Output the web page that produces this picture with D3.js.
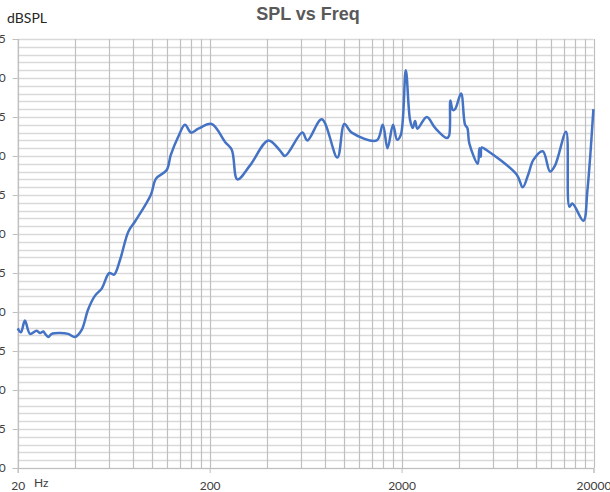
<!DOCTYPE html>
<html>
<head>
<meta charset="utf-8">
<script src="https://cdn.jsdelivr.net/npm/d3@7"></script>
<style>
    body { margin: 0; background: #fff; }
    svg { display: block; }
</style>
</head>
<body>
<div id="chart"></div>
<script>
var width = 610, height = 492,
    margin = {top: 39, right: 16.5, bottom: 24, left: 17.7};

// measured response (Hz, dB SPL)
var freqs = [20, 20.8, 21.8, 23.2, 25.1, 26.1, 27.2, 27.8, 28.9, 30.1, 33.2, 36.6, 39.8, 43.1, 46.5, 50.6, 54.8, 60, 63.5, 68.3,
    75.4, 81.7, 98.7, 105.1, 119.5, 125.4, 137.4, 148.8, 160, 174.6, 205, 240.6, 260.8, 279, 324.8, 404.6, 465.4, 494, 608, 645.8,
    767.8, 926, 1007, 1100, 1486, 1596, 1690, 1806, 1894, 1981, 2104, 2215, 2288, 2352, 2418, 2706, 2991, 3440, 3537, 3592,
    3698, 3800, 4084, 4284, 4404, 4510, 4990, 5087, 5172, 5235, 5512, 7968, 8561, 9160, 9725, 10884, 11880, 12617, 14394, 14976,
    15524, 17720, 18593, 19977];
var spl = [57.9, 57.4, 58.9, 57.2, 57.6, 57.3, 57.5, 57.2, 56.8, 57.2, 57.3, 57.2, 56.8, 57.7, 60.3, 62.1, 63.0, 65.0, 64.8, 66.7,
    70.3, 71.6, 75.0, 77.1, 78.2, 80.1, 82.5, 84.0, 83.0, 83.5, 84.1, 81.8, 80.8, 77.0, 78.8, 82.0, 80.7, 80.0, 83.0, 82.0,
    84.7, 79.8, 84.1, 83.0, 82.0, 84.0, 81.0, 84.0, 82.1, 82.7, 91.0, 84.6, 83.6, 84.5, 83.5, 85.0, 83.6, 82.3, 82.6, 87.1,
    85.9, 86.0, 88.0, 84.0, 83.6, 81.6, 79.0, 81.0, 79.9, 81.1, 80.8, 77.6, 76.0, 77.7, 79.5, 80.6, 78.0, 78.8, 83.1, 73.5,
    73.9, 71.7, 75.6, 86.0];

var xMajor = [20, 200, 2000, 20000];
var yTicks = [40, 45, 50, 55, 60, 65, 70, 75, 80, 85, 90, 95];

var data = freqs.map((f, i) => ({f: f, v: spl[i]}));

// excel style minor lines: 2x..9x of each major
var xMinor = [];
[20, 200, 2000].forEach(b => { for (var k = 2; k <= 9; k++) xMinor.push(b * k); });

var svg = d3.select("#chart").append("svg").attr("width", width).attr("height", height);

var x = d3.scaleLog().domain([20, 20000]).range([margin.left, width - margin.right]),
    y = d3.scaleLinear().domain([40, 95]).range([height - margin.bottom, margin.top]);

// horizontal grid, every 1 dB
svg.append("g")
    .selectAll("line")
    .data(d3.range(40, 96, 1))
    .enter()
    .append("line")
    .attr("x1", x(20)).attr("x2", x(20000))
    .attr("y1", d => Math.round(y(d)) + 0.5).attr("y2", d => Math.round(y(d)) + 0.5)
    .style("stroke", "#d9d9d9").style("stroke-width", 1.3);

// vertical grid
svg.append("g")
    .selectAll("line")
    .data(xMinor.concat(xMajor))
    .enter()
    .append("line")
    .attr("x1", d => Math.round(x(d)) + 0.5).attr("x2", d => Math.round(x(d)) + 0.5)
    .attr("y1", y(95)).attr("y2", y(40))
    .style("stroke", "#bfbfbf").style("stroke-width", 1.2);

// axes
var xAxis = d3.axisBottom(x).tickValues(xMajor).tickSize(5).tickFormat(d3.format("d"));
var yAxis = d3.axisLeft(y).tickValues(yTicks).tickSize(5).tickFormat(d3.format("d"));

var gx = svg.append("g").attr("transform", "translate(0," + y(40) + ")").call(xAxis);
gx.select(".domain").style("stroke", "#bfbfbf");
gx.selectAll(".tick line").style("stroke", "#bfbfbf");
gx.selectAll(".tick text")
    .attr("y", 13)
    .style("font", "12px Lato, 'Liberation Sans', sans-serif").style("fill", "#404040");

var gy = svg.append("g").attr("transform", "translate(" + x(20) + ",0)").call(yAxis);
gy.select(".domain").style("stroke", "#bfbfbf");
gy.selectAll(".tick line").style("stroke", "#bfbfbf");
gy.selectAll(".tick text")
    .attr("x", -12)
    .style("font", "12px Lato, 'Liberation Sans', sans-serif").style("fill", "#404040");

// response curve
var line = d3.line()
    .x(d => x(d.f))
    .y(d => y(d.v))
    .curve(d3.curveCatmullRom.alpha(0.5));

svg.append("path")
    .datum(data)
    .attr("d", line)
    .style("fill", "none")
    .style("stroke", "#4472c4")
    .style("stroke-width", 2.5)
    .style("stroke-linejoin", "round");

// titles
svg.append("text")
    .attr("x", 308).attr("y", 20)
    .style("text-anchor", "middle")
    .style("font", "bold 18px 'Liberation Sans', Arial, sans-serif")
    .style("fill", "#595959")
    .text("SPL vs Freq");

svg.append("text")
    .attr("x", 7).attr("y", 23)
    .style("font", "14px Lato, 'Liberation Sans', sans-serif")
    .style("fill", "#262626")
    .text("dBSPL");

svg.append("text")
    .attr("x", 34).attr("y", 487)
    .style("font", "12px Lato, 'Liberation Sans', sans-serif")
    .style("fill", "#404040")
    .text("Hz");
</script>
</body>
</html>
